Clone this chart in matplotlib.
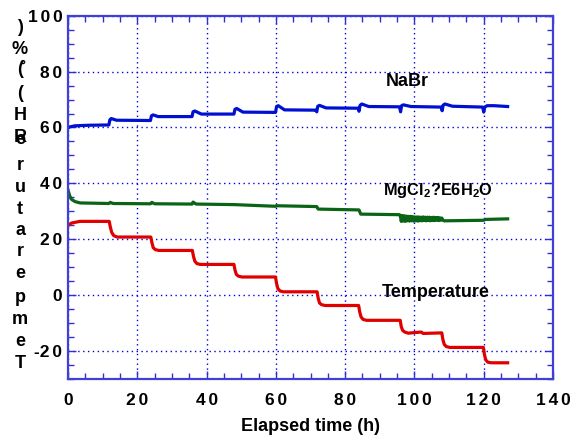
import matplotlib
matplotlib.use("Agg")
import matplotlib.pyplot as plt
from matplotlib.ticker import MultipleLocator, FixedLocator, FuncFormatter

plt.rcParams['font.family'] = ['Liberation Sans', 'DejaVu Sans']
plt.rcParams['font.weight'] = 'bold'
plt.rcParams['mathtext.fontset'] = 'custom'
plt.rcParams['mathtext.rm'] = 'Liberation Sans:bold'
plt.rcParams['mathtext.default'] = 'rm'

# NaBr relative humidity (%)
nabr_t = [0, 0.5, 2, 6, 11.8, 12.1, 12.5, 14, 23.8, 24.1, 24.6, 26, 35.8, 36.1, 36.6, 38.5,
          47.9, 48.2, 48.7, 50.5, 59.9, 60.2, 60.7, 62.5, 71.6, 71.8, 72.1, 72.6, 74.5,
          83.7, 84.0, 84.3, 84.8, 86.8, 95.7, 96.0, 96.3, 96.8, 99, 107.7, 108.0, 108.3,
          108.8, 111, 119.7, 120.0, 120.3, 121, 123, 126.9]
nabr_rh = [59.8, 60.2, 60.6, 60.8, 60.9, 62.8, 63.2, 62.6, 62.5, 64.2, 64.5, 63.9, 63.9, 65.6, 65.9, 64.8,
           64.8, 66.5, 66.8, 65.5, 65.4, 67.5, 67.8, 66.3, 66.2, 65.6, 67.6, 67.9, 67.0,
           66.9, 65.8, 67.9, 68.4, 67.5, 67.4, 65.6, 67.8, 68.1, 67.5, 67.3, 66.0, 68.0,
           68.4, 67.6, 67.3, 65.5, 67.3, 67.8, 67.8, 67.5]

# MgCl2.6H2O relative humidity (%)
mgcl_t = [0, 0.5, 1, 2, 3.5, 11.8, 12.2, 13, 23.8, 24.2, 25, 35.8, 36.1, 37, 48, 60, 60.2,
          71.8, 72.2, 84, 84.5, 95.6,
          95.9, 96.2, 96.5, 96.8, 97.1, 97.4, 97.7, 98.0, 98.3, 98.6, 98.9, 99.2, 99.5, 99.8,
          100.1, 100.4, 100.7, 101.0, 101.3, 101.6, 101.9, 102.2, 102.5, 102.8, 103.1, 103.4,
          103.7, 104.0, 104.3, 104.6, 104.9, 105.2, 105.5, 105.8, 106.1, 106.4, 106.7, 107.0,
          107.3, 107.6, 107.9, 108.2,
          108.6, 120, 120.5, 126.9]
mgcl_rh = [37.6, 35.5, 34.3, 33.5, 33.0, 32.8, 33.2, 32.8, 32.7, 33.2, 32.7, 32.6, 33.3, 32.6, 32.4, 31.8, 32.0,
           31.7, 30.8, 30.5, 29.0, 28.8,
           28.6, 26.4, 28.5, 26.5, 28.4, 26.4, 28.3, 26.6, 28.2, 26.5, 28.2, 26.6, 28.1, 26.5,
           28.0, 26.6, 28.0, 26.5, 28.0, 26.6, 27.9, 26.6, 28.0, 26.7, 27.9, 26.6,
           27.9, 26.7, 27.9, 26.6, 27.8, 26.7, 27.9, 26.7, 27.8, 26.8, 27.8, 26.7,
           27.7, 26.8, 27.6, 26.8,
           26.6, 26.8, 27.1, 27.3]

# Temperature (C)
temp_t = [0, 1, 3.4, 11.9, 12.2, 12.6, 13.2, 14.2, 23.9, 24.2, 24.6, 25.2, 26.2,
          35.9, 36.2, 36.6, 37.2, 38.2, 47.9, 48.2, 48.6, 49.2, 50.2, 59.9, 60.2, 60.6, 61.2, 62.2,
          71.9, 72.2, 72.6, 73.2, 74.2, 83.9, 84.2, 84.6, 85.2, 86.2, 95.9, 96.2, 96.6, 97.2, 98.2,
          102, 102.5, 107.9, 108.2, 108.6, 109.2, 110.2, 119.9, 120.2, 120.6, 121.2, 122.2, 126.9]
temp_c = [24.9, 25.8, 26.4, 26.4, 24.5, 22.5, 21.3, 20.8, 20.8, 18.9, 17.0, 16.3, 16.0,
          16.0, 14.0, 12.2, 11.3, 11.0, 11.0, 9.0, 7.4, 6.8, 6.5, 6.5, 4.2, 2.3, 1.5, 1.2,
          1.2, -1.0, -2.8, -3.4, -3.7, -3.7, -6.0, -7.8, -8.7, -9.0, -9.0, -11.3, -12.6, -13.2, -13.6,
          -13.2, -13.7, -13.5, -15.8, -17.6, -18.4, -18.7, -18.7, -21.2, -23.2, -24.0, -24.2, -24.2]

labels = ['NaBr', r'MgCl$_2$?E6H$_2$O', 'Temperature']

fig = plt.figure(figsize=(5.79, 4.43), dpi=100)
ax = fig.add_axes([68 / 579, 1 - 379 / 443, 485 / 579, 363.3 / 443])

ax.plot(nabr_t, nabr_rh, color='#0010d0', lw=2.3)
ax.plot(mgcl_t, mgcl_rh, color='#0a6416', lw=2.3)
ax.plot(temp_t, temp_c, color='#e00000', lw=2.3)

ax.set_xlim(0, 140)
ax.set_ylim(-30, 100)
ax.xaxis.set_major_locator(MultipleLocator(20))
ax.xaxis.set_minor_locator(MultipleLocator(5))
ax.yaxis.set_major_locator(FixedLocator([-20, 0, 20, 40, 60, 80, 100]))
ax.yaxis.set_minor_locator(MultipleLocator(5))


def spaced(v, pos):
    s = '%d' % v
    sign = '-' if s.startswith('-') else ''
    return sign + '\u2006'.join(s.lstrip('-'))


ax.xaxis.set_major_formatter(FuncFormatter(spaced))
ax.yaxis.set_major_formatter(FuncFormatter(spaced))
ax.tick_params(which='both', direction='in', top=True, right=True, color='#3030d0',
               labelsize=12.5, width=1)
ax.tick_params(which='major', length=6)
ax.tick_params(which='minor', length=4)
ax.tick_params(axis='x', pad=10)
ax.tick_params(axis='y', pad=4)
for lab in ax.get_xticklabels() + ax.get_yticklabels():
    lab.set_fontweight('bold')

for sp in ax.spines.values():
    sp.set_color('#4040d8')
    sp.set_linewidth(1.6)
ax.grid(True, which='major', color='#0000e0', linestyle=(0, (1, 2.5)), lw=1)

ax.text(98, 76.6, labels[0], fontsize=13, fontweight='bold', ha='center', va='center')
ax.text(90.8, 37.5, labels[1], fontsize=11.8, fontweight='bold', ha='left', va='center')
ax.text(90.6, 1.1, labels[2], fontsize=13, fontweight='bold', ha='left', va='center')

ax.set_xlabel('Elapsed time (h)', fontsize=13, fontweight='bold', labelpad=7)

# stacked y-axis label characters (top to bottom)
ylab_chars = [')', '%', '(', '(', 'H', 'R', 'r', 'u', 't', 'a', 'r', 'e', 'p', 'm', 'e', 'T']
ylab_px = [28, 50, 70, 94, 116, 137, 166, 187, 209, 230, 251, 274, 297, 320, 341, 363]
for ch, py in zip(ylab_chars, ylab_px):
    fig.text(20 / 579, 1 - py / 443, ch, fontsize=13, fontweight='bold', ha='center', va='center')
fig.text(22 / 579, 1 - 66 / 443, '\u00b0', fontsize=11, fontweight='bold', ha='center', va='center')
fig.text(20 / 579, 1 - 139 / 443, 'e', fontsize=13, fontweight='bold', ha='center', va='center')

fig.savefig('out.png', dpi=100)
